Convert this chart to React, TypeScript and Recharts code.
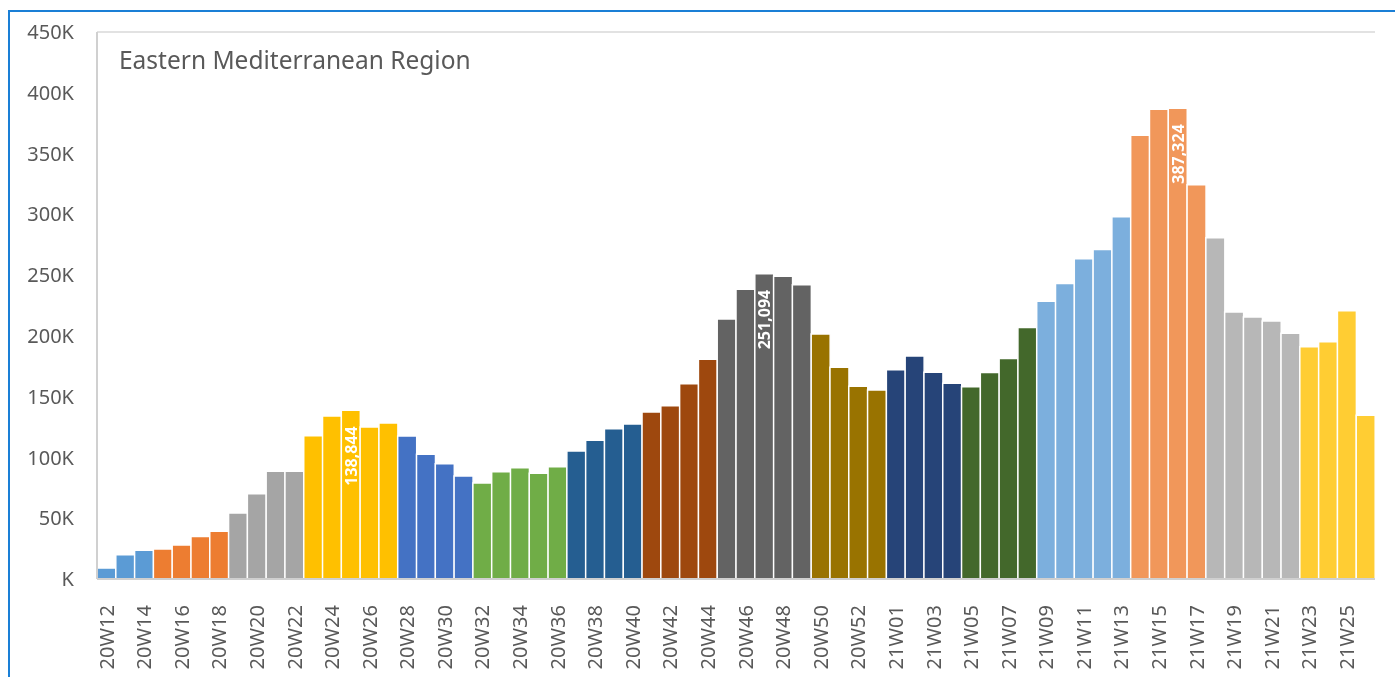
import React from 'react';
import { BarChart, Bar, XAxis, YAxis, CartesianGrid, Cell, LabelList } from 'recharts';

const weeks = [
  '20W12', '20W13', '20W14', '20W15', '20W16', '20W17', '20W18', '20W19', '20W20', '20W21',
  '20W22', '20W23', '20W24', '20W25', '20W26', '20W27', '20W28', '20W29', '20W30', '20W31',
  '20W32', '20W33', '20W34', '20W35', '20W36', '20W37', '20W38', '20W39', '20W40', '20W41',
  '20W42', '20W43', '20W44', '20W45', '20W46', '20W47', '20W48', '20W49', '20W50', '20W51',
  '20W52', '20W53', '21W01', '21W02', '21W03', '21W04', '21W05', '21W06', '21W07', '21W08',
  '21W09', '21W10', '21W11', '21W12', '21W13', '21W14', '21W15', '21W16', '21W17', '21W18',
  '21W19', '21W20', '21W21', '21W22', '21W23', '21W24', '21W25', '21W26',
];

const cases = [
  9000, 20000, 23600, 24700, 28000, 35000, 39200, 54300, 70200, 88600,
  88600, 117900, 134000, 138844, 125000, 128300, 117600, 102600, 94900, 84700,
  79000, 88300, 91600, 86900, 92400, 105300, 114100, 123700, 127500, 137400,
  142600, 160700, 180700, 213900, 238300, 251094, 249000, 242100, 201600, 174200,
  158500, 155500, 172200, 183500, 170000, 161100, 158200, 169800, 181400, 206800,
  228500, 243200, 263500, 271100, 298000, 365100, 386400, 387324, 324300, 280800,
  219700, 215500, 212200, 202100, 191100, 195200, 220600, 134800,
];

// one colour per month, and how many weeks fall in it
const monthColors = [
  '#5B9BD5', '#ED7D31', '#A5A5A5', '#FFC000', '#4472C4', '#70AD47', '#255E91', '#9E480E',
  '#636363', '#997300', '#264478', '#43682B', '#7CAFDD', '#F1975A', '#B7B7B7', '#FFCD33',
];
const monthSizes = [3, 4, 4, 5, 4, 5, 4, 4, 5, 4, 4, 4, 5, 4, 5, 4];

const labelledWeeks = ['20W25', '20W47', '21W16'];

const yTicks = [0, 50000, 100000, 150000, 200000, 250000, 300000, 350000, 400000, 450000];

const barColors: string[] = monthSizes.flatMap((n, i) => Array(n).fill(monthColors[i]));

const data = weeks.map((week, i) => ({ week, cases: cases[i] }));

const FONT = '"Noto Sans", "Open Sans", sans-serif';
const TEXT = '#595959';

const WeekTick = (props: any) => {
  const { x, y, payload } = props;
  return (
    <text
      x={x}
      y={y + 18}
      transform={`rotate(-90, ${x}, ${y + 18})`}
      textAnchor="end"
      dy="0.36em"
      fill={TEXT}
      fontSize={20}
      fontFamily={FONT}
    >
      {payload.value}
    </text>
  );
};

const PeakLabel = (props: any) => {
  const { x, y, width, index } = props;
  if (!labelledWeeks.includes(weeks[index])) return null;
  const cx = x + width / 2;
  const ty = y + 16;
  return (
    <text
      x={cx}
      y={ty}
      transform={`rotate(-90, ${cx}, ${ty})`}
      textAnchor="end"
      dy="0.36em"
      fill="#FFFFFF"
      fontSize={16}
      fontWeight={700}
      fontFamily={FONT}
    >
      {cases[index].toLocaleString('en-US')}
    </text>
  );
};

const App: React.FC = () => {
  return (
    <div style={{ position: 'relative', width: 1379, height: 661, fontFamily: FONT }}>
      <div
        style={{
          position: 'fixed',
          left: 8,
          top: 10,
          right: 0,
          bottom: 0,
          borderTop: '2px solid #1A7FD6',
          borderLeft: '2px solid #1A7FD6',
          pointerEvents: 'none',
        }}
      />
      <BarChart
        width={1379}
        height={661}
        data={data}
        barCategoryGap={0}
        margin={{ top: 24, right: 12, left: 0, bottom: 0 }}
      >
        <CartesianGrid vertical={false} stroke="#D9D9D9" strokeWidth={1.5} />
        <XAxis
          dataKey="week"
          interval={1}
          height={90}
          tickLine={false}
          axisLine={{ stroke: '#D0D0D0', strokeWidth: 2 }}
          tick={<WeekTick />}
        />
        <YAxis
          yAxisId="left"
          domain={[0, 450000]}
          ticks={yTicks}
          width={89}
          tickLine={false}
          tickSize={0}
          tickMargin={23}
          axisLine={{ stroke: '#D0D0D0', strokeWidth: 2 }}
          tick={{ fill: TEXT, fontSize: 20, fontFamily: FONT }}
          tickFormatter={(v: number) => (v === 0 ? 'K' : `${v / 1000}K`)}
        />
        <YAxis
          yAxisId="right"
          orientation="right"
          width={0}
          domain={[0, 450000]}
          tick={false}
          tickLine={false}
          axisLine={{ stroke: '#D0D0D0', strokeWidth: 2 }}
        />
        <Bar
          yAxisId="left"
          dataKey="cases"
          stroke="#FFFFFF"
          strokeWidth={1.5}
          isAnimationActive={false}
        >
          {data.map((_, i) => (
            <Cell key={`cell-${i}`} fill={barColors[i]} />
          ))}
          <LabelList dataKey="cases" content={<PeakLabel />} />
        </Bar>
      </BarChart>
      <div
        style={{
          position: 'absolute',
          left: 111,
          top: 40,
          fontSize: 24.5,
          lineHeight: '24.5px',
          color: TEXT,
          whiteSpace: 'nowrap',
        }}
      >
        Eastern Mediterranean Region
      </div>
    </div>
  );
};

export default App;
